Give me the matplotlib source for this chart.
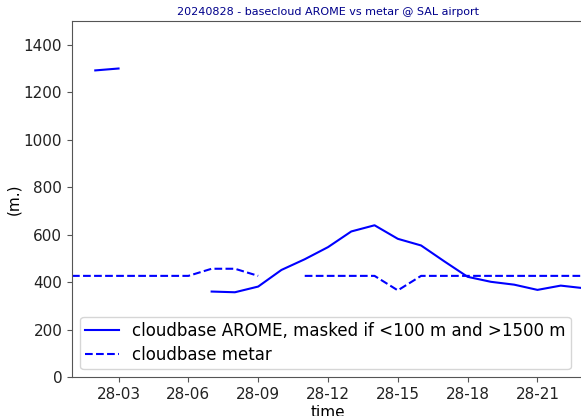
import numpy as np
import pandas as pd
import matplotlib
matplotlib.use("Agg")
import matplotlib.pyplot as plt
import matplotlib.dates as mdates

times = pd.date_range("2024-08-28 01:00", "2024-08-28 23:00", freq="h")
# hours 01..23
arome = [np.nan, 1292, 1300, np.nan, np.nan, np.nan, 361, 358, 382, 452, 497, 548,
         614, 640, 583, 555, 488, 423, 402, 390, 368, 386, 375]
metar = [427, 427, 427, 427, 427, 427, 457, 457, 427, np.nan, 427, 427,
         427, 427, 366, 427, 427, 427, 427, 427, 427, 427, 427]

arome = np.array(arome, dtype=float)
metar = np.array(metar, dtype=float)

fig = plt.figure(figsize=(5.81, 4.16), dpi=100)
ax = fig.add_axes([72/581, 1 - 377.3/416, 512/581, (377.3 - 21)/416])

ax.plot(times, arome, color="blue", lw=1.5, label="cloudbase AROME, masked if <100 m and >1500 m")
ax.plot(times, metar, color="blue", lw=1.5, ls="--", label="cloudbase metar")

ax.set_ylim(0, 1500)
ax.set_xlim(times[0], times[-1])
ax.xaxis.set_major_locator(mdates.HourLocator(byhour=range(3, 24, 3)))
ax.xaxis.set_major_formatter(mdates.DateFormatter("%d-%H"))
ax.tick_params(labelsize=11, colors="#222222")
ax.tick_params(color="#555555")
ax.set_xlabel("time", fontsize=11, labelpad=2)
ax.set_ylabel("(m.)", fontsize=11, labelpad=1.7)
ax.set_title("20240828 - basecloud AROME vs metar @ SAL airport", fontsize=8,
             color="darkblue", pad=4)
for s in ax.spines.values():
    s.set_color("#555555")
ax.legend(loc="lower left", fontsize=12, labelspacing=0.38, borderpad=0.3)

fig.savefig("out.png", dpi=100)
